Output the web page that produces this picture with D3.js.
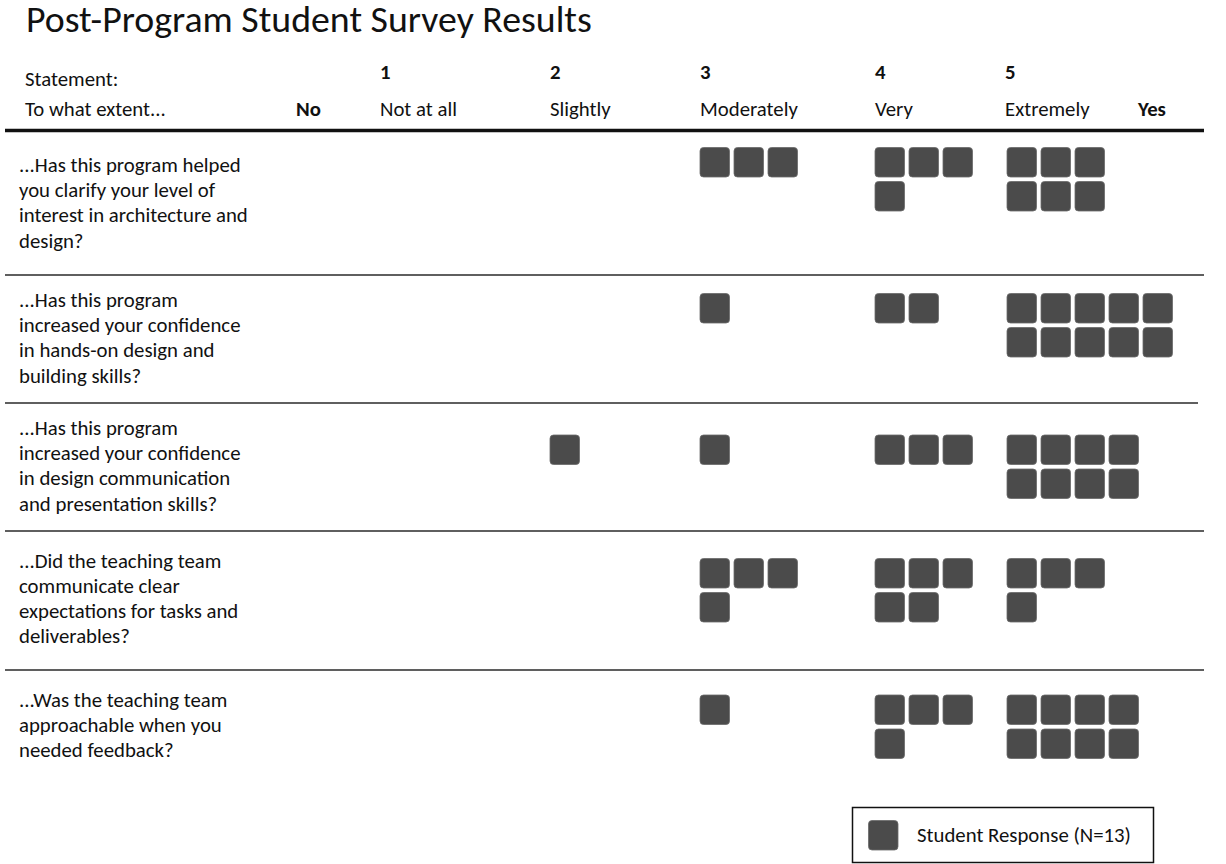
<!DOCTYPE html>
<html>
<head>
<meta charset="utf-8">
<script src="https://cdn.jsdelivr.net/npm/d3@7/dist/d3.min.js"></script>
<style>
  html, body { margin: 0; padding: 0; background: #ffffff; }
  svg { display: block; }
</style>
</head>
<body>
<svg id="chart" width="1226" height="864"></svg>
<script>
// ---------- DATA ----------
const title = "Post-Program Student Survey Results";
const headerLeft = ["Statement:", "To what extent..."];
const levels = ["1", "2", "3", "4", "5"];
const levelLabels = ["Not at all", "Slightly", "Moderately", "Very", "Extremely"];
const endLabels = ["No", "Yes"];
const statements = [
  ["...Has this program helped", "you clarify your level of", "interest in architecture and", "design?"],
  ["...Has this program", "increased your confidence", "in hands-on design and", "building skills?"],
  ["...Has this program", "increased your confidence", "in design communication", "and presentation skills?"],
  ["...Did the teaching team", "communicate clear", "expectations for tasks and", "deliverables?"],
  ["...Was the teaching team", "approachable when you", "needed feedback?"]
];
// responses per statement at each level (N = 13)
const notAtAll   = [0, 0, 0, 0, 0];
const slightly   = [0, 0, 1, 0, 0];
const moderately = [3, 1, 1, 4, 1];
const very       = [4, 2, 3, 5, 4];
const extremely  = [6, 10, 8, 4, 8];
const legendLabel = "Student Response (N=13)";

// ---------- DRAW ----------
function draw() {
  const svg = d3.select("#chart");
  const FONT = "Carlito, Lato, 'Open Sans', sans-serif";

  // fit font size so text width matches the Calibri-like original
  function fitSize(str, target, weight) {
    const t = svg.append("text").attr("font-family", FONT).attr("font-size", 100)
      .attr("font-weight", weight || "normal").text(str);
    const w = t.node().getComputedTextLength();
    t.remove();
    return 100 * target / w;
  }
  const bodySize = fitSize("Not at all", 77);
  const titleSize = fitSize(title, 566);

  const rowIds = statements.map((d, i) => i);
  const series = [notAtAll, slightly, moderately, very, extremely];

  const x = d3.scaleOrdinal().domain(levels).range([380, 550, 700, 875, 1007]);
  const rowSquareTop = d3.scaleOrdinal().domain(rowIds).range([147.5, 293.5, 435, 558.5, 695]);
  const rowTextTop = d3.scaleOrdinal().domain(rowIds).range([172, 307, 435, 567.5, 707]);
  const separators = [275, 403, 531, 670];
  const sepEnd = [1204, 1198, 1204, 1204];

  const SQ = 29.5, STEP = 34, R = 3.5;
  const lineH = 25.2;

  // Title
  svg.append("text").attr("x", 26).attr("y", 32)
    .attr("font-family", FONT).attr("font-size", titleSize).attr("fill", "#111")
    .text(title);

  // Header left
  svg.append("text").attr("x", 25).attr("y", 86).attr("font-family", FONT)
    .attr("font-size", bodySize).attr("fill", "#111").text(headerLeft[0]);
  svg.append("text").attr("x", 25).attr("y", 115.5).attr("font-family", FONT)
    .attr("font-size", bodySize).attr("fill", "#111").text(headerLeft[1]);

  // Level numbers and labels
  svg.selectAll("text.num").data(levels).join("text").attr("class", "num")
    .attr("x", d => x(d) - (d === "5" ? 2 : 0)).attr("y", 79)
    .attr("font-family", FONT).attr("font-size", bodySize).attr("font-weight", "bold")
    .attr("fill", "#111").text(d => d);
  svg.selectAll("text.lvl").data(levels).join("text").attr("class", "lvl")
    .attr("x", d => x(d) - (d === "5" ? 2 : 0)).attr("y", 115.5)
    .attr("font-family", FONT).attr("font-size", bodySize)
    .attr("fill", "#111").text((d, i) => levelLabels[i]);

  // No / Yes
  svg.append("text").attr("x", 296).attr("y", 115.5).attr("font-family", FONT)
    .attr("font-size", bodySize).attr("font-weight", "bold").attr("fill", "#111").text(endLabels[0]);
  svg.append("text").attr("x", 1138).attr("y", 115.5).attr("font-family", FONT)
    .attr("font-size", bodySize).attr("font-weight", "bold").attr("fill", "#111").text(endLabels[1]);

  // Thick header rule
  svg.append("line").attr("x1", 5).attr("x2", 1204).attr("y1", 130.5).attr("y2", 130.5)
    .attr("stroke", "#111").attr("stroke-width", 3.5);

  // Row separators
  svg.selectAll("line.sep").data(separators).join("line").attr("class", "sep")
    .attr("x1", 5).attr("x2", (d, i) => sepEnd[i]).attr("y1", d => d).attr("y2", d => d)
    .attr("stroke", "#2a2a2a").attr("stroke-width", 1.6);

  // Statement texts
  const stG = svg.selectAll("g.stmt").data(statements).join("g").attr("class", "stmt");
  stG.selectAll("text").data((d, i) => d.map((line, j) => ({ line, j, i }))).join("text")
    .attr("x", 19).attr("y", d => rowTextTop(d.i) + d.j * lineH)
    .attr("font-family", FONT).attr("font-size", bodySize).attr("fill", "#111")
    .text(d => d.line);

  // Response squares
  const cells = [];
  rowIds.forEach(r => {
    levels.forEach((lv, li) => {
      const n = series[li][r];
      const perLine = Math.max(3, Math.ceil(n / 2));
      for (let k = 0; k < n; k++) {
        cells.push({ r, lv, col: k % perLine, line: Math.floor(k / perLine) });
      }
    });
  });
  svg.selectAll("rect.cell").data(cells).join("rect").attr("class", "cell")
    .attr("x", d => x(d.lv) + d.col * STEP)
    .attr("y", d => rowSquareTop(d.r) + d.line * STEP)
    .attr("width", SQ).attr("height", SQ).attr("rx", R).attr("ry", R)
    .attr("fill", "#4b4b4b").attr("stroke", "#6a6a6a").attr("stroke-width", 0.8);

  // Legend
  svg.append("rect").attr("x", 852.5).attr("y", 807.5).attr("width", 301).attr("height", 55)
    .attr("fill", "#fff").attr("stroke", "#111").attr("stroke-width", 1.5);
  svg.append("rect").attr("x", 868.5).attr("y", 820.5).attr("width", SQ).attr("height", SQ)
    .attr("rx", R).attr("ry", R).attr("fill", "#4b4b4b").attr("stroke", "#6a6a6a").attr("stroke-width", 0.8);
  svg.append("text").attr("x", 917).attr("y", 842).attr("font-family", FONT)
    .attr("font-size", bodySize).attr("fill", "#111").text(legendLabel);
}

if (document.fonts && document.fonts.ready) {
  document.fonts.ready.then(draw);
} else {
  draw();
}
</script>
</body>
</html>
